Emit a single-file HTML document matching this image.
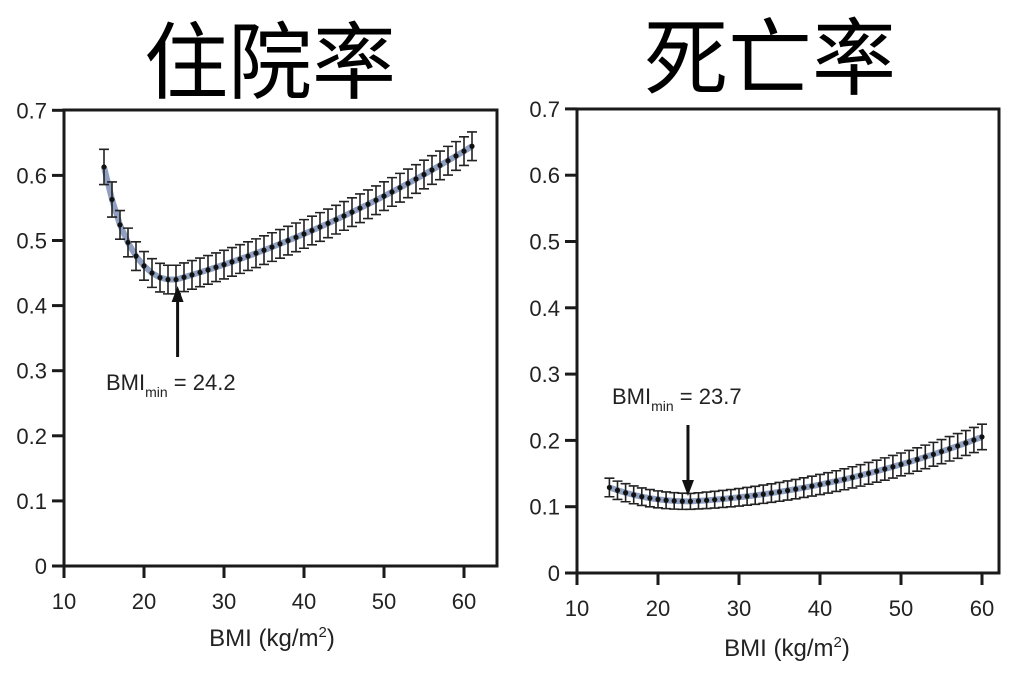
<!DOCTYPE html>
<html><head><meta charset="utf-8"><style>
body{margin:0;background:#fff;width:1024px;height:682px;overflow:hidden}
svg{display:block}
text{font-family:"Liberation Sans","Noto Sans CJK SC",sans-serif;fill:#222}
</style></head><body>
<svg id="s" width="1024" height="682" viewBox="0 0 1024 682">
<text x="270" y="92" font-size="84" text-anchor="middle" font-family="Noto Sans CJK SC,sans-serif" style="fill:#000">住院率</text>
<text x="770" y="88" font-size="84" text-anchor="middle" font-family="Noto Sans CJK SC,sans-serif" style="fill:#000">死亡率</text>
<g id="g"></g>
</svg>
<script>
var g=document.getElementById('g');var h='';
function plot(P){
 var X=function(v){return P.x10+(v-10)*P.sx},Y=function(v){return P.y0-v*P.sy};
 h+='<rect x="'+P.l+'" y="'+P.t+'" width="'+(P.r-P.l)+'" height="'+(P.y0-P.t)+'" fill="none" stroke="#1a1a1a" stroke-width="3"/>';
 for(var i=0;i<=7;i++){var y=Y(i/10);h+='<line x1="'+(P.l-12)+'" x2="'+P.l+'" y1="'+y+'" y2="'+y+'" stroke="#1a1a1a" stroke-width="3"/>';
  h+='<text x="'+(P.l-17)+'" y="'+(y+8)+'" font-size="22" text-anchor="end">'+(i==0?'0':(i/10).toFixed(1))+'</text>';}
 for(var v=10;v<=60;v+=10){var x=X(v);h+='<line x1="'+x+'" x2="'+x+'" y1="'+P.y0+'" y2="'+(P.y0+12)+'" stroke="#1a1a1a" stroke-width="3"/>';
  h+='<text x="'+x+'" y="'+(P.y0+43)+'" font-size="22" text-anchor="middle">'+v+'</text>';}
 h+='<text x="'+P.lx+'" y="'+P.ly+'" font-size="24" text-anchor="middle">BMI (kg/m<tspan font-size="15" dy="-9">2</tspan><tspan dy="9">)</tspan></text>';
 var pts=[];for(var b=P.b0;b<=P.b1;b++)pts.push([b,P.f(b)]);
 h+='<polyline fill="none" stroke="#8fa0c0" stroke-width="6" points="'+pts.map(function(p){return X(p[0])+','+Y(p[1])}).join(' ')+'"/>';
 pts.forEach(function(p){var x=X(p[0]),e=P.e(p[0]);var y1=Y(p[1]+e),y2=Y(p[1]-e);
  h+='<path d="M'+x+' '+y1+'V'+y2+'M'+(x-5)+' '+y1+'h10M'+(x-5)+' '+y2+'h10" stroke="#222" stroke-width="1.6" fill="none"/>';
  h+='<circle cx="'+x+'" cy="'+Y(p[1])+'" r="2.6" fill="#111"/>';});
 var ax=X(P.am),s=P.a2>P.a1?1:-1;
 h+='<line x1="'+ax+'" x2="'+ax+'" y1="'+P.a1+'" y2="'+(P.a2-12*s)+'" stroke="#111" stroke-width="3"/><path d="M'+(ax-6)+' '+(P.a2-16*s)+'L'+ax+' '+P.a2+'L'+(ax+6)+' '+(P.a2-16*s)+'Z" fill="#111"/>';
 h+='<text x="'+P.tx+'" y="'+P.ty+'" font-size="22">BMI<tspan font-size="14" dy="7">min</tspan><tspan dy="-7"> = '+P.val+'</tspan></text>';
}
var L={15:.613,16:.563,17:.524,18:.497,19:.476,20:.461,21:.45,22:.443,23:.440,24:.440};
plot({l:64,r:497,t:110,y0:566,x10:64,sx:8.0,sy:651,b0:15,b1:61,f:function(b){if(L[b]!==undefined)return L[b];var d=b-24;return 0.44+0.0035*d+0.000055*d*d;},
 e:function(b){return b<17?0.027:0.022},lx:272,ly:646,am:24.2,a1:357,a2:286,tx:106,ty:390,val:'24.2'});
plot({l:577,r:999,t:109,y0:573,x10:577,sx:8.1,sy:663,b0:14,b1:60,f:function(b){var d=b-24;return d<0?0.108+0.00018*d*d+0.000003*Math.pow(-d,3):0.108+0.0007*d+0.0000556*d*d;},
 e:function(b){return 0.012+0.0002*Math.abs(b-24)},lx:787,ly:656,am:23.7,a1:425,a2:496,tx:612,ty:404,val:'23.7'});
g.innerHTML=h;
</script>
</body></html>
